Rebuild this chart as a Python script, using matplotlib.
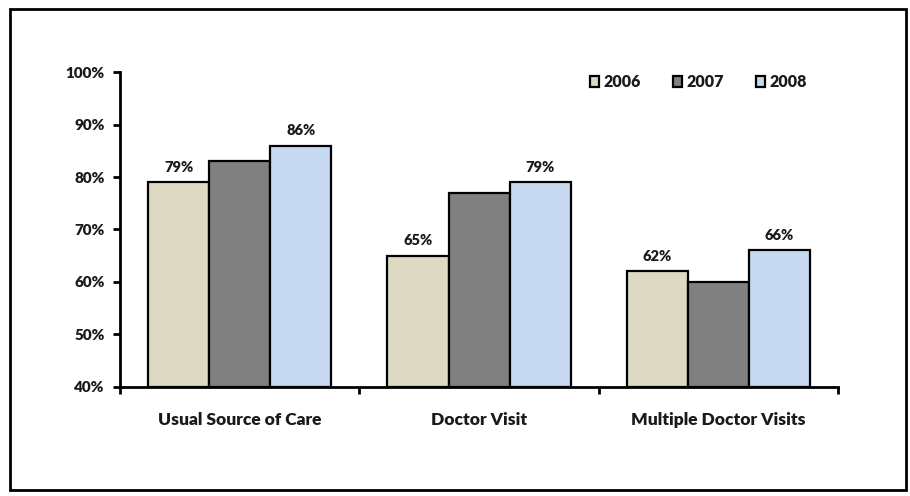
import matplotlib as mpl
import matplotlib.pyplot as plt
from matplotlib.patches import Rectangle
import numpy as np

mpl.rcParams['font.family'] = ['Lato', 'DejaVu Sans']
mpl.rcParams['font.weight'] = 'bold'

categories = ['Usual Source of Care', 'Doctor Visit', 'Multiple Doctor Visits']
years = ['2006', '2007', '2008']
values_2006 = [79, 65, 62]
values_2007 = [83, 77, 60]
values_2008 = [86, 79, 66]
# which years get a value label over the bar
labeled = {'2006': True, '2007': False, '2008': True}

colors = ['#DDD9C3', '#808080', '#C6D9F1']
series = [values_2006, values_2007, values_2008]
txt = '#1a1a1a'

fig = plt.figure(figsize=(9.1, 4.96), dpi=100)
ax = fig.add_axes([0.1319, 0.2198, 0.789, 0.635])

x = np.arange(len(categories))
width = 0.255
for i, (yr, vals) in enumerate(zip(years, series)):
    pos = x + (i - 1) * width
    ax.bar(pos, [v - 40 for v in vals], bottom=40, width=width, color=colors[i],
           edgecolor='black', linewidth=1.6, label=yr, zorder=2)
    if labeled[yr]:
        for p, v in zip(pos, vals):
            ax.text(p, v + 1.6, '%d%%' % v, ha='center', va='bottom',
                    fontsize=10.5, fontweight='heavy', color=txt)

ax.set_xlim(-0.5, 2.5)
ax.set_ylim(40, 100)
ax.set_yticks(range(40, 101, 10))
ax.set_yticklabels(['%d%%' % t for t in range(40, 101, 10)], fontsize=11,
                   fontweight='heavy', color=txt)

ax.set_xticks(x)
ax.set_xticklabels(categories, fontsize=12.5, fontweight='heavy', color=txt)
ax.set_xticks([-0.5, 0.5, 1.5, 2.5], minor=True)
ax.tick_params(axis='x', which='major', length=0, pad=18)
ax.tick_params(axis='x', which='minor', length=5, width=2, direction='out')
ax.tick_params(axis='y', length=5, width=2, direction='out', pad=6)

for s in ['top', 'right']:
    ax.spines[s].set_visible(False)
for s in ['left', 'bottom']:
    ax.spines[s].set_linewidth(2)

leg = ax.legend(loc='center right', bbox_to_anchor=(0.965, 0.968), ncol=3,
                frameon=False, fontsize=11.5, handlelength=0.6, handleheight=0.6,
                handletextpad=0.25, columnspacing=2.0, borderaxespad=0)
for t in leg.get_texts():
    t.set_fontweight('heavy')
    t.set_color(txt)

# outer frame around the whole figure
fig.patches.append(Rectangle((10 / 910, 6 / 496), 896 / 910, 481 / 496,
                             transform=fig.transFigure, fill=False,
                             edgecolor='black', linewidth=2))

fig.savefig('out.png', dpi=100)
